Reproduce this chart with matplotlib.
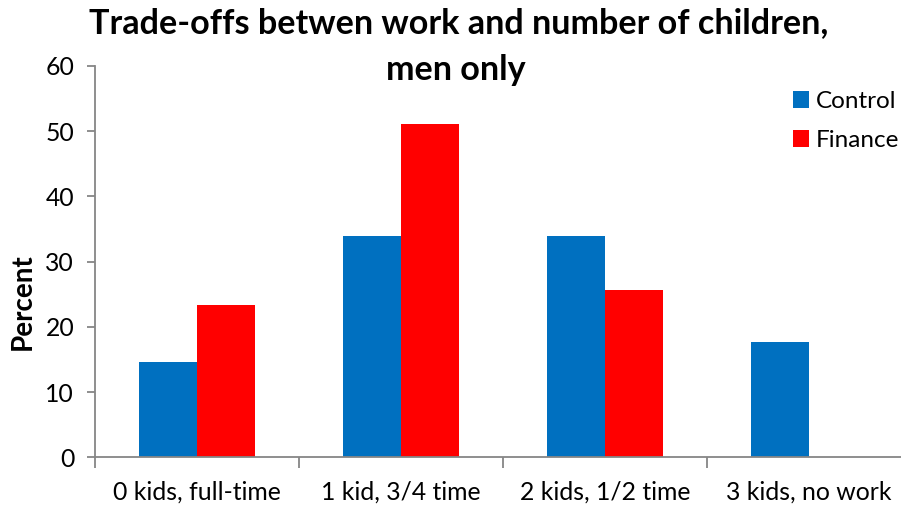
import numpy as np
import matplotlib.pyplot as plt

# survey responses, men only (percent)
categories = ["0 kids, full-time", "1 kid, 3/4 time", "2 kids, 1/2 time", "3 kids, no work"]
control = [14.6, 33.9, 33.9, 17.7]
finance = [23.4, 51.1, 25.6, 0.0]
title_lines = ["Trade-offs betwen work and number of children,", "men only"]

plt.rcParams['font.family'] = ['Lato', 'DejaVu Sans']

fig = plt.figure(figsize=(9.01, 5.08), dpi=100)
ax = fig.add_axes([0.1054, 0.0995, 0.906, 0.771])

x = np.arange(len(categories))
w = 0.285
ax.bar(x - w / 2, control, w, color="#0070C0", label="Control")
ax.bar(x + w / 2, finance, w, color="#FF0000", label="Finance")

ax.set_xlim(-0.5, 3.5)
ax.set_ylim(0, 60)
ax.set_yticks(range(0, 61, 10))
ax.set_xticks(x)
ax.set_xticklabels(categories)
ax.set_xticks(np.arange(-0.5, 4, 1), minor=True)

axis_grey = "#868686"
for side in ["top", "right"]:
    ax.spines[side].set_visible(False)
for side in ["left", "bottom"]:
    ax.spines[side].set_color(axis_grey)
    ax.spines[side].set_linewidth(1.3)

ax.tick_params(axis="x", which="major", length=0, pad=17, labelsize=17.8)
ax.tick_params(axis="x", which="minor", length=8, width=1.3, color=axis_grey)
ax.tick_params(axis="y", length=6, width=1.3, color=axis_grey, pad=9, labelsize=17.8)

fig.text(23 / 901, 1 - 302 / 508, "Percent", rotation=90, ha="center", va="center",
         fontsize=20, fontweight="bold")

# two-line title, centred over the plot
fig.text(0.509, 1 - 33 / 508, title_lines[0], ha="center", va="baseline",
         fontsize=24.6, fontweight="bold")
fig.text(0.506, 1 - 80 / 508, title_lines[1], ha="center", va="baseline",
         fontsize=24.6, fontweight="bold")

ax.legend(loc="upper left", bbox_to_anchor=(0.843, 0.96), frameon=False, fontsize=17.5,
          handlelength=0.66, handleheight=0.66, handletextpad=0.3, labelspacing=0.74,
          borderaxespad=0)

fig.savefig("out.png", dpi=100)
